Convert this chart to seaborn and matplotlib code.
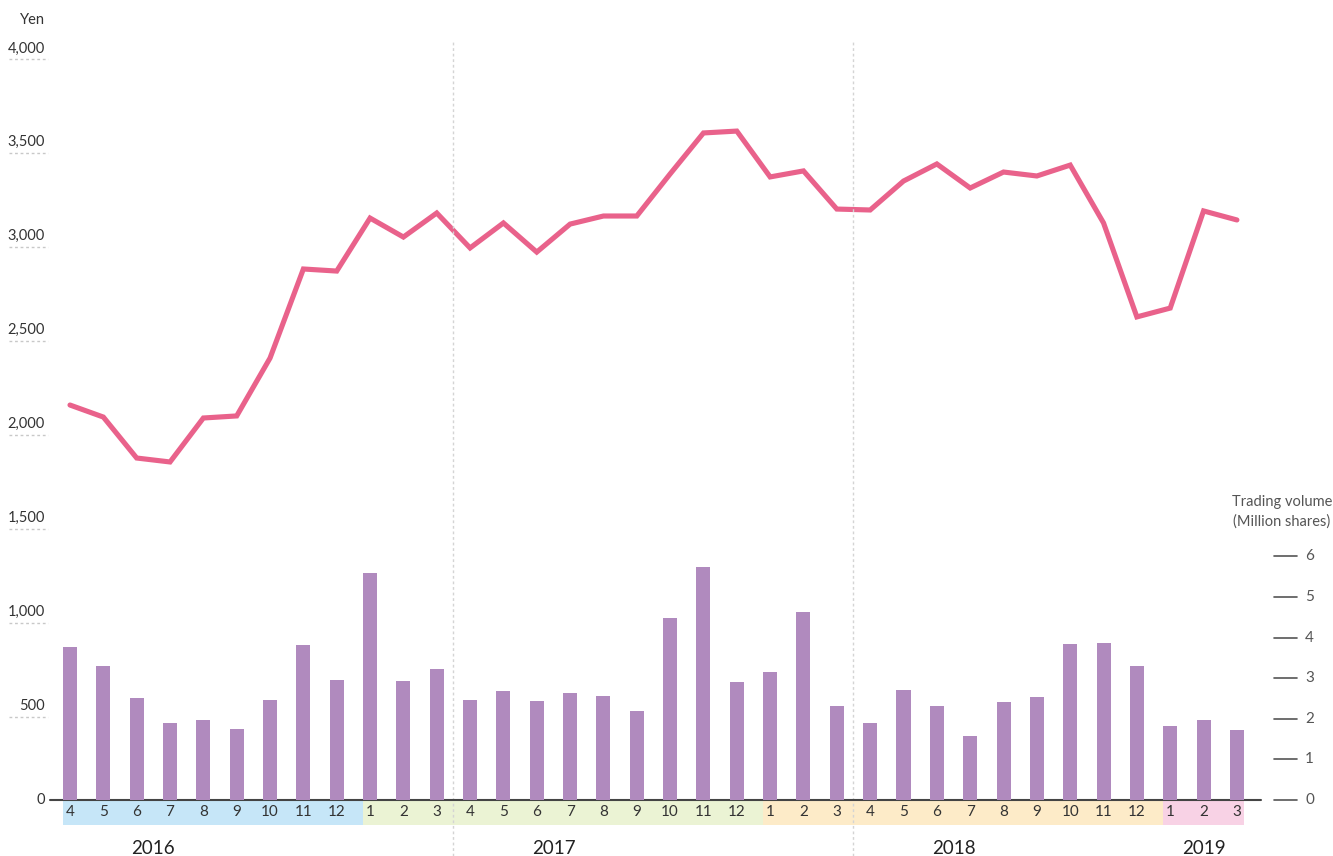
import numpy as np
import pandas as pd
import matplotlib.pyplot as plt
from matplotlib.patches import Rectangle
import seaborn as sns

# monthly data, Apr 2016 - Mar 2019
months = ["4", "5", "6", "7", "8", "9", "10", "11", "12", "1", "2", "3",
          "4", "5", "6", "7", "8", "9", "10", "11", "12", "1", "2", "3",
          "4", "5", "6", "7", "8", "9", "10", "11", "12", "1", "2", "3"]
price = [2102, 2038, 1820, 1799, 2033, 2044, 2352, 2826, 2815, 3097, 2996, 3124,
         2938, 3071, 2916, 3065, 3108, 3108, 3332, 3550, 3560, 3316, 3348, 3145,
         3140, 3294, 3385, 3257, 3342, 3321, 3379, 3071, 2571, 2618, 3135, 3087]
volume = [3.77, 3.30, 2.51, 1.90, 1.97, 1.75, 2.46, 3.82, 2.96, 5.59, 2.93, 3.23,
          2.46, 2.68, 2.44, 2.64, 2.56, 2.19, 4.48, 5.74, 2.91, 3.15, 4.63, 2.32,
          1.90, 2.71, 2.32, 1.58, 2.41, 2.54, 3.84, 3.87, 3.30, 1.82, 1.97, 1.72]
years = ["2016", "2017", "2018", "2019"]
year_pos = [2.5, 14.5, 26.5, 34.0]
year_first = [0, 9, 21, 33]   # first month index of each calendar year
band_colors = ["#c6e6f8", "#ebf3d4", "#fdebc8", "#f8d2e5"]
yen_ticks = [0, 500, 1000, 1500, 2000, 2500, 3000, 3500, 4000]
vol_ticks = [0, 1, 2, 3, 4, 5, 6]

df = pd.DataFrame({"idx": np.arange(len(months)), "price": price, "volume": volume})

sns.set_style("white")
plt.rcParams["font.family"] = ["Lato", "DejaVu Sans"]

fig = plt.figure(figsize=(13.33, 8.56), dpi=100)
ax = fig.add_axes([0, 0, 1, 1])
ax2 = ax.twinx()

# pixel helpers: month i sits at 70 + 33.34*i px, yen 0 at 800 px (0.1879 px/yen)
PX = 33.34
YEN = 0.1879
VOL = 40.6
BW = 0.42
xlim = (-70 / PX, (1333 - 70) / PX)

sns.lineplot(data=df, x="idx", y="price", ax=ax, color="#e9628b", linewidth=3.7,
             solid_joinstyle="miter")
sns.barplot(data=df, x="idx", y="volume", ax=ax2, native_scale=True, width=BW,
            color="#b08abe", saturation=1, linewidth=0)

ax.set_xlim(*xlim)
ax2.set_xlim(*xlim)
ax.set_ylim(-56 / YEN, 800 / YEN)
ax2.set_ylim(-56 / VOL, 800 / VOL)
for a in (ax, ax2):
    a.axis("off")

# left axis labels with short dotted marks
for v in yen_ticks:
    ax.text((45 - 70) / PX, v, f"{v:,}", ha="right", va="center", fontsize=10.5, color="#333333")
    if v > 0:
        ax.plot([(9 - 70) / PX, (48 - 70) / PX], [v - 10.5 / YEN] * 2, color="#c8c8c8",
                lw=1, ls=(0, (2, 2)))
ax.text((32 - 70) / PX, 780 / YEN, "Yen", ha="center", va="center", fontsize=10.5, color="#333333")

# fiscal year separators
for xv in (11.5, 23.5):
    ax.plot([xv, xv], [-56 / YEN, 760 / YEN], color="#d4d4d4", lw=1, ls=(0, (2, 2)))

# month bands under the axis, one colour per calendar year
edges = [f - BW / 2 for f in year_first] + [len(months) - 1 + BW / 2]
for k, c in enumerate(band_colors):
    ax.add_patch(Rectangle((edges[k], -25 / YEN), edges[k + 1] - edges[k], 25 / YEN,
                           facecolor=c, edgecolor="none", zorder=1))
for i, m in enumerate(months):
    ax.text(i, -12 / YEN, m, ha="center", va="center", fontsize=11, color="#333333")
for y, p in zip(years, year_pos):
    ax.text(p, -48 / YEN, y, ha="center", va="center", fontsize=13.5, color="#222222")

ax.plot([(50 - 70) / PX, (1261 - 70) / PX], [0, 0], color="#444444", lw=1.5, zorder=5)

# right axis for trading volume
for v in vol_ticks:
    ax2.plot([(1274 - 70) / PX, (1297 - 70) / PX], [v, v], color="#555555", lw=1.2)
    ax2.text((1305 - 70) / PX, v, str(v), ha="left", va="center", fontsize=11, color="#555555")
ax2.text((1282 - 70) / PX, 298 / VOL, "Trading volume", ha="center", va="center",
         fontsize=10.5, color="#555555")
ax2.text((1282 - 70) / PX, 278 / VOL, "(Million shares)", ha="center", va="center",
         fontsize=10.5, color="#555555")

fig.savefig("out.png", dpi=100)
